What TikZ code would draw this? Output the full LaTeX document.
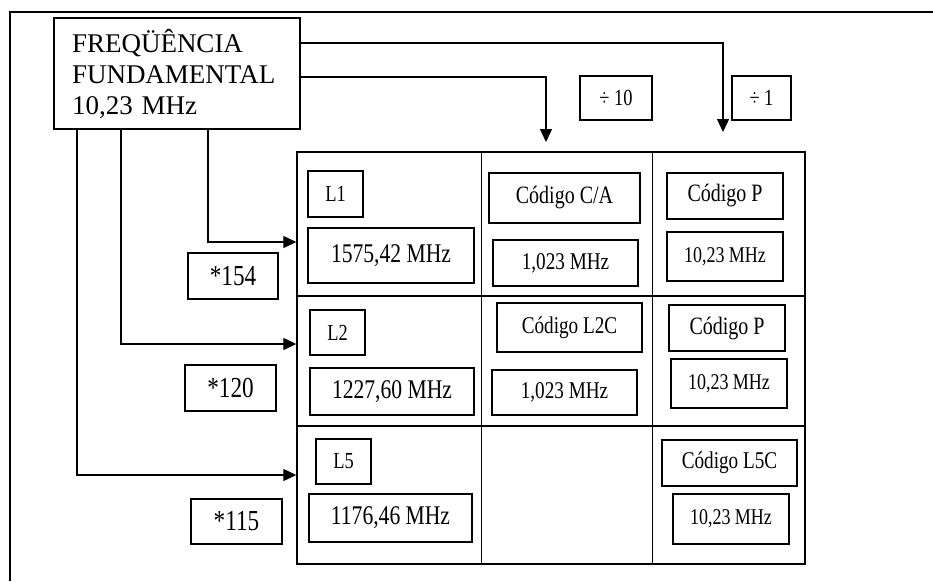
\documentclass[tikz,border=0pt]{standalone}
\usepackage{fontspec}
\setmainfont{Liberation Serif}
\newfontfamily\narrowfont[FakeStretch=0.8]{Liberation Serif}
\usetikzlibrary{arrows.meta,positioning}
\newcommand{\sz}[1]{\fontsize{#1}{#1}\selectfont}

\begin{document}
\begin{tikzpicture}[x=1pt, y=-1pt,
    box/.style={draw, line width=1.4pt, inner sep=0pt, font=\narrowfont\sz{25}},
    mult/.style={draw, line width=1.4pt, inner sep=0pt, font=\narrowfont\sz{29}},
    arr/.style={-{Triangle[length=13pt,width=12pt]}, line width=1.3pt}]
      \useasboundingbox (0,0) rectangle (933,581);
      \draw[line width=1.4pt] (10,581) -- (10,12) -- (933,12);
      % source and dividers
      \node[draw, line width=1.4pt, minimum width=246pt, minimum height=111pt, inner sep=0pt, text width=210pt, align=left, font=\fontsize{27}{31}\selectfont] (freq) at (177,73.5) {FREQÜÊNCIA\\FUNDAMENTAL\\10,23 MHz};
      \node[mult, font=\narrowfont\sz{23}, minimum width=72pt, minimum height=44pt] (div10) at (616,98) {÷ 10};
      \node[mult, font=\narrowfont\sz{23}, minimum width=59pt, minimum height=44pt] (div1) at (761.5,98) {÷ 1};
      % table
      \node[draw, line width=1.4pt, minimum width=508pt, minimum height=412pt] (tab) at (551,358) {};
      \draw[line width=0.8pt] (tab.north -| 481,0) -- (tab.south -| 481,0);
      \draw[line width=0.8pt] (tab.north -| 652,0) -- (tab.south -| 652,0);
      \draw[line width=1.2pt] (tab.west |- 0,296) -- (tab.east |- 0,296);
      \draw[line width=1.2pt] (tab.west |- 0,426) -- (tab.east |- 0,426);
      % row L1
      \node[box, font=\narrowfont\sz{23}, minimum width=55pt, minimum height=46pt] (l1) at (335.5,194) {L1};
      \node[box, font=\narrowfont\sz{27}, minimum width=166pt, minimum height=55pt] (l1f) at (391,255.5) {1575,42 MHz};
      \node[box, minimum width=151pt, minimum height=50pt] (ca) at (564.5,198) {Código C/A\hspace{20pt}};
      \node[box, font=\narrowfont\sz{24}, minimum width=145pt, minimum height=46pt] (caf) at (565.5,263) {1,023 MHz\hspace{16pt}};
      \node[box, minimum width=116pt, minimum height=46pt] (p1) at (725,196) {Código P\hspace{8pt}};
      \node[box, font=\narrowfont\sz{22.5}, minimum width=116pt, minimum height=49pt] (p1f) at (725,256.5) {10,23 MHz};
      % row L2
      \node[box, font=\narrowfont\sz{23}, minimum width=55pt, minimum height=45pt] (l2) at (337.5,332.5) {L2};
      \node[box, font=\narrowfont\sz{27}, minimum width=164pt, minimum height=47pt] (l2f) at (392,391.5) {1227,60 MHz};
      \node[box, font=\narrowfont\sz{24}, minimum width=145pt, minimum height=49pt] (l2c) at (569.5,327.5) {\raisebox{5pt}{Código L2C}};
      \node[box, font=\narrowfont\sz{24}, minimum width=145pt, minimum height=45pt] (l2cf) at (564.5,392.5) {1,023 MHz\hspace{16pt}};
      \node[box, minimum width=116pt, minimum height=46pt] (p2) at (727,328) {Código P\hspace{8pt}};
      \node[box, font=\narrowfont\sz{22.5}, minimum width=116pt, minimum height=49pt] (p2f) at (729,383.5) {10,23 MHz};
      % row L5
      \node[box, font=\narrowfont\sz{23}, minimum width=55pt, minimum height=45pt] (l5) at (343.5,461.5) {L5};
      \node[box, font=\narrowfont\sz{27}, minimum width=163pt, minimum height=48pt] (l5f) at (390.5,518) {1176,46 MHz};
      \node[box, font=\narrowfont\sz{24}, minimum width=135pt, minimum height=46pt] (l5c) at (729.5,463) {Código L5C};
      \node[box, font=\narrowfont\sz{22.5}, minimum width=116pt, minimum height=50pt] (l5cf) at (731,519) {10,23 MHz};
      % multipliers
      \node[mult, minimum width=90pt, minimum height=46pt] (m154) at (233,276) {*154};
      \node[mult, minimum width=91pt, minimum height=46pt] (m120) at (230.5,388) {*120};
      \node[mult, minimum width=91pt, minimum height=45pt] (m115) at (236.5,521.5) {*115};
      % connectors
      \coordinate (catip) at (546,142);
      \coordinate (ptip) at (723,132);
      \draw[arr] (freq.east |- 0,43) -| (ptip);
      \draw[arr] (freq.east |- 0,77) -| (catip);
      \draw[arr] (freq.south -| 208,0) |- (tab.west |- 0,242);
      \draw[arr] (freq.south -| 121,0) |- (tab.west |- 0,344);
      \draw[arr] (freq.south -| 77,0) |- (tab.west |- 0,475);
    \end{tikzpicture}
\end{document}
